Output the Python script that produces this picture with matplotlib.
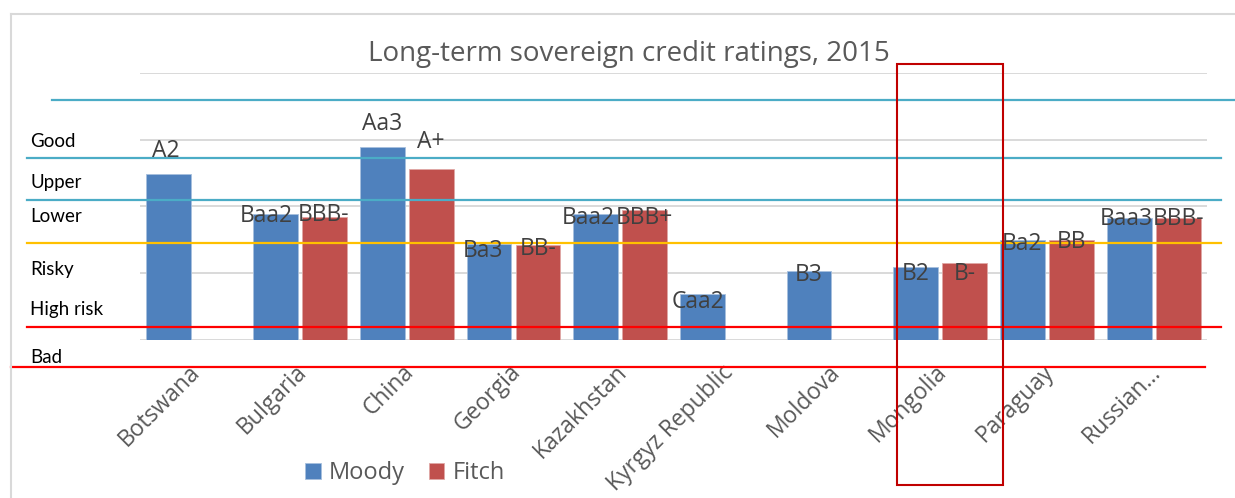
import numpy as np
import matplotlib.pyplot as plt
from matplotlib.patches import Rectangle
from matplotlib.transforms import blended_transform_factory, ScaledTranslation

countries = ['Botswana', 'Bulgaria', 'China', 'Georgia', 'Kazakhstan',
             'Kyrgyz Republic', 'Moldova', 'Mongolia', 'Paraguay', 'Russian\u2026']

# bar heights (0 = bottom gridline, gridlines every 5)
moody = [12.43, 9.43, 14.44, 7.17, 9.43, 3.44, 5.12, 5.42, 7.45, 9.15]
fitch = [np.nan, 9.18, 12.79, 7.12, 9.73, np.nan, np.nan, 5.75, 7.45, 9.15]
moody_lbl = ['A2', 'Baa2', 'Aa3', 'Ba3', 'Baa2', 'Caa2', 'B3', 'B2', 'Ba2', 'Baa3']
fitch_lbl = ['', 'BBB-', 'A+', 'BB-', 'BBB+', '', '', 'B-', 'BB', 'BBB-']

# rating bands drawn over the chart
zones = ['Good', 'Upper', 'Lower', 'Risky', 'High risk', 'Bad']
zone_y = [14.5, 11.4, 8.85, 4.85, 1.85, -1.8]
band_lines = [18.0, 13.66, 10.5, 7.27, 0.96, -2.04]

# label nudges (pixels), like the manual placement in the original
m_dx = [-3, -9, 0, -6, -7.5, -4, 0, 0, 0, -3]
m_dy = [17, -8, 17, -13, -10, -14, -10, -13, -10, -7]
f_dx = [0, -1, 0, 0, 0, 0, 0, 0, 0, 0]
f_dy = [0, -4, 21, -10, -14, 0, 0, -17, -8, -7]

blue = '#4F81BD'
red = '#C0504D'
teal = '#4BACC6'
gold = '#FFC000'
grey = '#595959'

plt.rcParams['font.family'] = ['Open Sans', 'DejaVu Sans']

W, H = 1235, 498
fig = plt.figure(figsize=(W / 100, H / 100), dpi=100)
ax = fig.add_axes([140 / W, 1 - 339.5 / H, 1067 / W, 266.2 / H])

x = np.arange(len(countries))
width = 0.42
ax.bar(x - 0.23, moody, width, color=blue, edgecolor='#A7C0DE', linewidth=0.6, label='Moody', zorder=2)
ax.bar(x + 0.23, fitch, width, color=red, edgecolor='#E0A8A6', linewidth=0.6, label='Fitch', zorder=2)

for i in range(len(countries)):
    ax.annotate(moody_lbl[i], (x[i] - 0.23, moody[i]), xytext=(m_dx[i], m_dy[i]),
                textcoords='offset pixels', ha='center', va='baseline',
                fontsize=16.5, color='#404040', zorder=4)
    if fitch_lbl[i]:
        ax.annotate(fitch_lbl[i], (x[i] + 0.23, fitch[i]), xytext=(f_dx[i], f_dy[i]),
                    textcoords='offset pixels', ha='center', va='baseline',
                    fontsize=16.5, color='#404040', zorder=4)

ax.set_xlim(-0.5, 9.5)
ax.set_ylim(0, 20)
ax.set_yticks([0, 5, 10, 15, 20])
ax.yaxis.grid(True, color='#D9D9D9', linewidth=1.4, zorder=0)
ax.set_axisbelow(True)
ax.set_yticklabels([])
ax.tick_params(length=0)
for s in ax.spines.values():
    s.set_visible(False)
ax.set_xticks(x)
ax.set_xticklabels(countries, rotation=45, ha='right', rotation_mode='anchor',
                   fontsize=16.5, color=grey)
ax.tick_params(axis='x', pad=15)
shift = ScaledTranslation(-5 / 100, 0, fig.dpi_scale_trans)
for lbl in ax.get_xticklabels():
    lbl.set_transform(lbl.get_transform() + shift)

# band lines and labels
tr = blended_transform_factory(fig.transFigure, ax.transData)
starts = [52, 27, 27, 27, 27, 11]
ends = [1235, 1221, 1221, 1221, 1221, 1205]
colors = [teal, teal, teal, gold, 'red', 'red']
for yv, x0, x1, c in zip(band_lines, starts, ends, colors):
    ax.plot([x0 / W, x1 / W], [yv, yv], color=c, lw=1.6, transform=tr, clip_on=False, zorder=3)
for z, yv in zip(zones, zone_y):
    ax.text(30 / W, yv, z, transform=tr, fontsize=13.5, family=['Lato', 'DejaVu Sans'],
            color='black', va='baseline', ha='left')

# box around Mongolia
tr2 = blended_transform_factory(ax.transData, fig.transFigure)
ax.add_patch(Rectangle((7 - 0.41, 1 - 485 / H), 1.0, (485 - 64) / H, transform=tr2,
                       fill=False, edgecolor='#C00000', lw=1.5, clip_on=False, zorder=5))

# chart frame (left and top)
fig.add_artist(plt.Line2D([11 / W, 11 / W], [0, 1 - 14 / H], color='#D9D9D9', lw=1.5))
fig.add_artist(plt.Line2D([11 / W, 1], [1 - 14 / H, 1 - 14 / H], color='#D9D9D9', lw=1.5))

fig.text(629 / W, 1 - 54 / H, 'Long-term sovereign credit ratings, 2015', ha='center', va='center',
         fontsize=20, color=grey)

fig.legend(loc='center', bbox_to_anchor=(405 / W, 1 - 473 / H), ncol=2, frameon=False,
           fontsize=17, labelcolor=grey, handlelength=0.65, handleheight=0.65,
           handletextpad=0.35, columnspacing=1.0)

fig.savefig('out.png', dpi=100)
